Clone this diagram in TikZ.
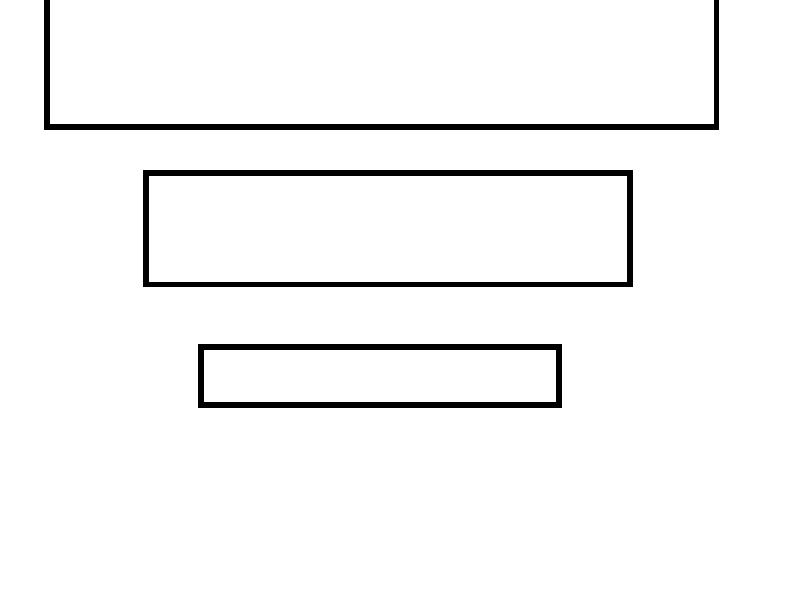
\documentclass[tikz,border=0pt]{standalone}
\begin{document}
\begin{tikzpicture}[x=1pt,y=-1pt,
  box/.style={draw=black,line width=5.5pt,fill=white}]
\useasboundingbox (0,0) rectangle (800,600);
\clip (0,0) rectangle (800,600);
\fill[white] (0,0) rectangle (800,600);
\draw[box] (47,-20) rectangle (716.5,127);
\draw[box] (146,173) rectangle (630,284.5);
\draw[box] (201,347) rectangle (559,405);
\end{tikzpicture}
\end{document}
